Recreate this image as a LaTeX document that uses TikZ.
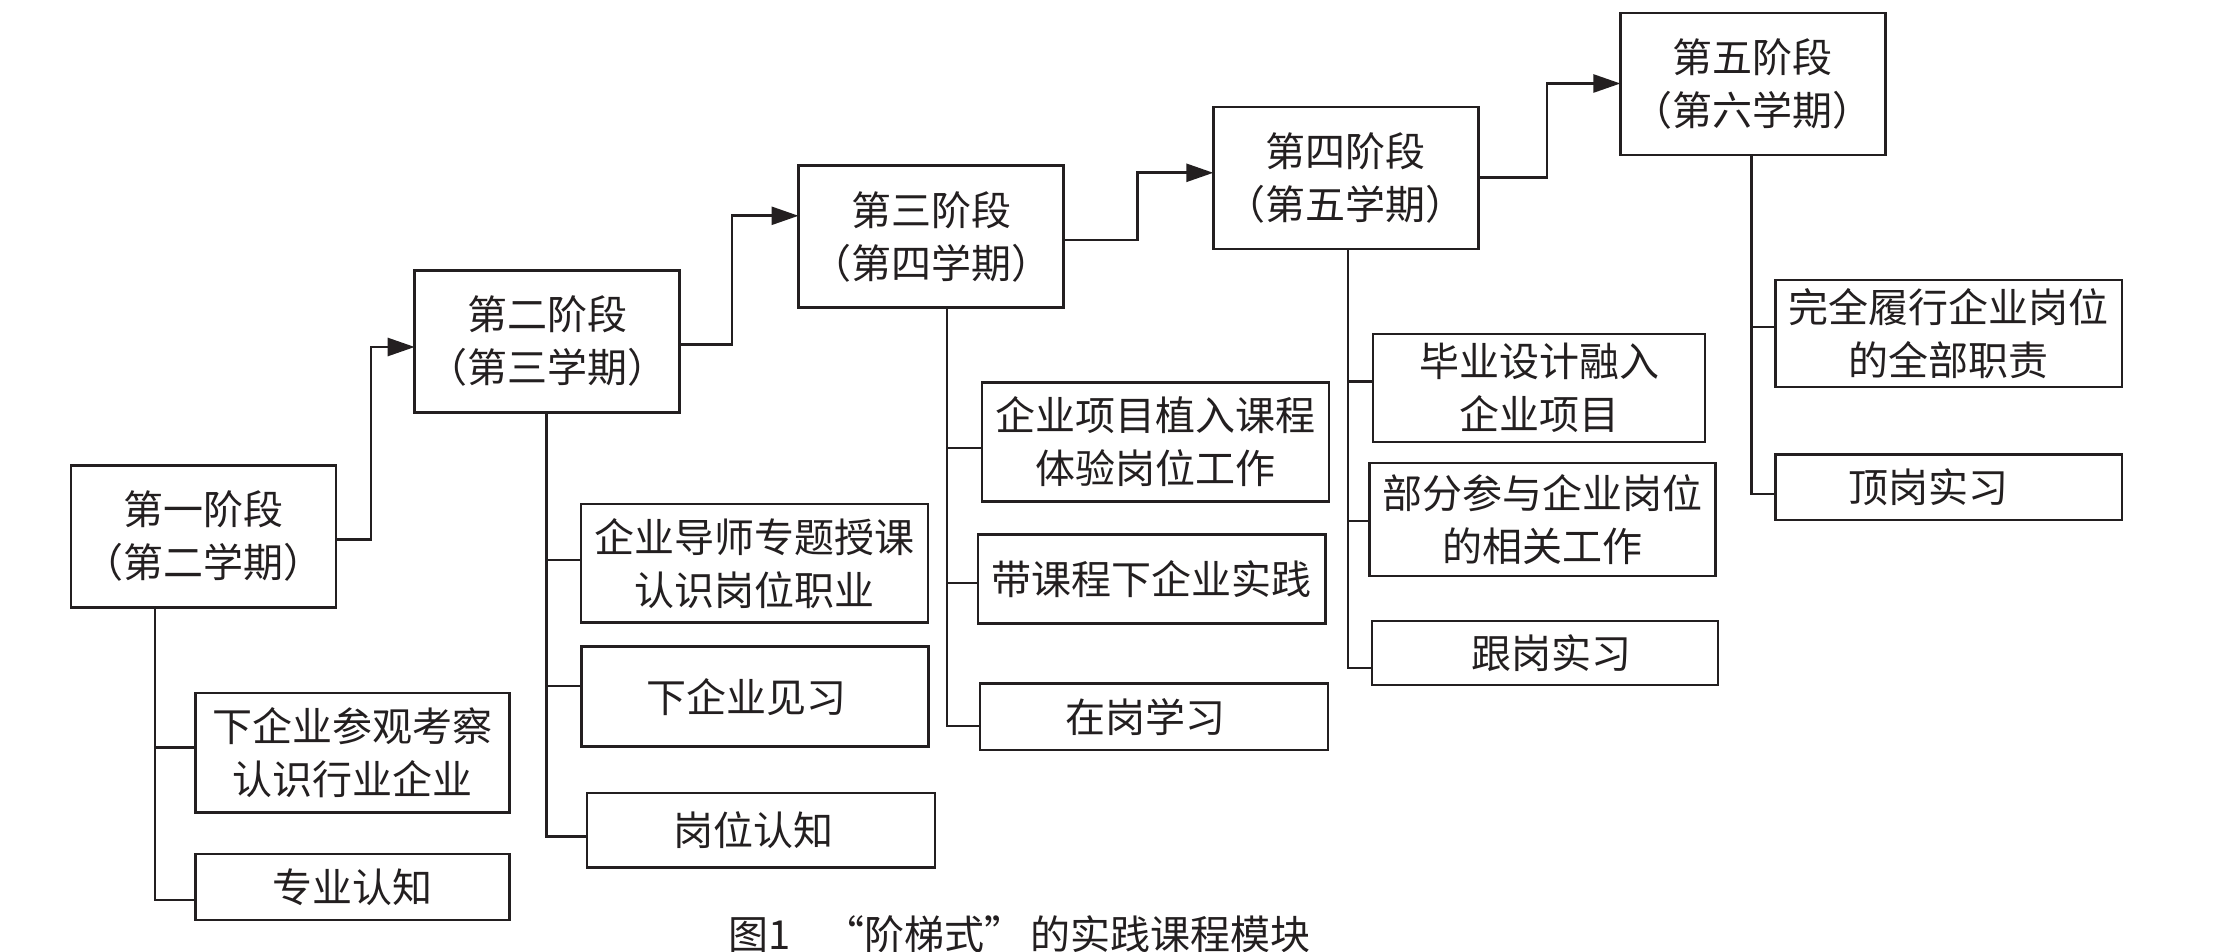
\documentclass[tikz,border=0pt]{standalone}
\usepackage{fontspec}
\setmainfont{Noto Sans CJK SC}
\usetikzlibrary{arrows.meta}
\definecolor{ink}{RGB}{35,31,32}
\begin{document}
\begin{tikzpicture}[x=0.5pt,y=-0.5pt,
  every node/.style={inner sep=0pt, outer sep=0pt},
  box/.style={draw=ink, line width=1.3pt, align=center, text=ink,
    font=\fontsize{20pt}{26.5pt}\selectfont},
  stage/.style={box, minimum width=132.5pt, minimum height=71pt},
  link/.style={draw=ink, line width=1.3pt},
  arr/.style={link, -{Triangle[length=13.5pt,width=9pt]}}]
\useasboundingbox (0,0) rectangle (2213,952);
\fill[white] (0,0) rectangle (2213,952);

% stages
\node[stage] (S1) at (203.4,536.4) {第一阶段\\（第二学期）};
\node[stage] (S2) at (547.2,341.5) {第二阶段\\（第三学期）};
\node[stage] (S3) at (931,236.8) {第三阶段\\（第四学期）};
\node[stage] (S4) at (1345.8,178) {第四阶段\\（第五学期）};
\node[stage] (S5) at (1752.9,84) {第五阶段\\（第六学期）};

% stage 1 items
\node[box, minimum width=157pt, minimum height=59.75pt] (A1) at (352.75,752.75) {下企业参观考察\\认识行业企业};
\node[box, minimum width=157pt, minimum height=33pt] (A2) at (352.75,887) {专业认知};
% stage 2 items
\node[box, minimum width=173.5pt, minimum height=59.35pt] (B1) at (754.5,563.3) {企业导师专题授课\\认识岗位职业};
\node[box, minimum width=173.5pt, minimum height=50pt] (B2) at (755,696.7) {\hspace*{-9pt}下企业见习};
\node[box, minimum width=174pt, minimum height=37.3pt] (B3) at (761,830.3) {\hspace*{-8pt}岗位认知};
% stage 3 items
\node[box, minimum width=173.5pt, minimum height=59.5pt] (C1) at (1155.5,442) {企业项目植入课程\\体验岗位工作};
\node[box, minimum width=173.75pt, minimum height=44.6pt] (C2) at (1151.75,579.1) {带课程下企业实践};
\node[box, minimum width=174pt, minimum height=33.25pt] (C3) at (1154,716.75) {\hspace*{-9pt}在岗学习};
% stage 4 items
\node[box, minimum width=166pt, minimum height=54pt] (D1) at (1539,388) {毕业设计融入\\企业项目};
\node[box, minimum width=172.85pt, minimum height=56.5pt] (D2) at (1542.5,519.5) {部分参与企业岗位\\的相关工作};
\node[box, minimum width=173pt, minimum height=32pt] (D3) at (1545,653) {\hspace*{6pt}跟岗实习};
% stage 5 items
\node[box, minimum width=173.15pt, minimum height=53.5pt] (E1) at (1948.85,333.5) {完全履行企业岗位\\的全部职责};
\node[box, minimum width=173.15pt, minimum height=32.8pt] (E2) at (1948.85,487.2) {\hspace*{-20pt}顶岗实习};

% caption
\node[anchor=west, text=ink, font=\fontsize{20pt}{24pt}\selectfont] (cap) at (728,934)
  {图1\hspace*{17pt}\makebox[20pt][r]{“}阶梯式\makebox[23pt][l]{”}的实践课程模块};

% stage-to-stage arrows
\coordinate (k1a) at (371,539.7);  \coordinate (k1b) at (371,347);
\coordinate (k2a) at (732,344.7);  \coordinate (k2b) at (732,215.8);
\coordinate (k3a) at (1137.6,240); \coordinate (k3b) at (1137.6,172.8);
\coordinate (k4a) at (1547,177.7); \coordinate (k4b) at (1547,83.5);
\draw[arr] (k1a -| S1.east) -- (k1a) -- (k1b) -- (k1b -| S2.west);
\draw[arr] (k2a -| S2.east) -- (k2a) -- (k2b) -- (k2b -| S3.west);
\draw[arr] (k3a -| S3.east) -- (k3a) -- (k3b) -- (k3b -| S4.west);
\draw[arr] (k4a -| S4.east) -- (k4a) -- (k4b) -- (k4b -| S5.west);

% trunks and branches
\coordinate (ja1) at (154.8,747.4); \coordinate (ja2) at (154.8,900);
\draw[link] (S1.south -| ja2) -- (ja2) -- (ja2 -| A2.west);
\draw[link] (ja1) -- (ja1 -| A1.west);

\coordinate (jb1) at (546.5,560); \coordinate (jb2) at (546.5,686); \coordinate (jb3) at (546.5,836.6);
\draw[link] (S2.south -| jb3) -- (jb3) -- (jb3 -| B3.west);
\draw[link] (jb1) -- (jb1 -| B1.west);
\draw[link] (jb2) -- (jb2 -| B2.west);

\coordinate (jc1) at (947,448); \coordinate (jc2) at (947,583); \coordinate (jc3) at (947,726);
\draw[link] (S3.south -| jc3) -- (jc3) -- (jc3 -| C3.west);
\draw[link] (jc1) -- (jc1 -| C1.west);
\draw[link] (jc2) -- (jc2 -| C2.west);

\coordinate (jd1) at (1348,381.5); \coordinate (jd2) at (1348,521); \coordinate (jd3) at (1348,668);
\draw[link] (S4.south -| jd3) -- (jd3) -- (jd3 -| D3.west);
\draw[link] (jd1) -- (jd1 -| D1.west);
\draw[link] (jd2) -- (jd2 -| D2.west);

\coordinate (je1) at (1751.6,327); \coordinate (je2) at (1751.6,494);
\draw[link] (S5.south -| je2) -- (je2) -- (je2 -| E2.west);
\draw[link] (je1) -- (je1 -| E1.west);
\end{tikzpicture}
\end{document}
